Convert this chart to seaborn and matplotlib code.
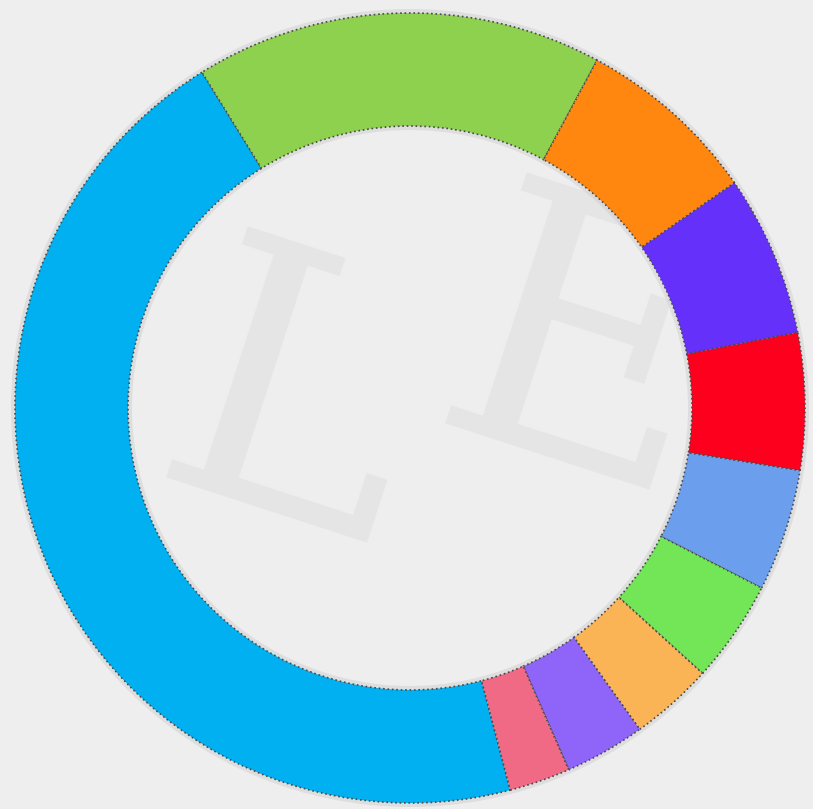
import matplotlib
matplotlib.use("Agg")
import matplotlib.pyplot as plt
import seaborn as sns

sns.set_style("white")

# share of each slice, read from the ring (largest first, clockwise)
shares = [45.3, 16.7, 7.5, 6.6, 5.6, 5.0, 4.2, 3.4, 3.3, 2.5]
colors = ["#00b0f0", "#8dd14f", "#ff860f", "#6630fb", "#fd001d",
          "#6b9fee", "#72e656", "#fab455", "#8f64f8", "#f06a86"]

palette = sns.color_palette(colors)

fig = plt.figure(figsize=(8.13, 8.09), dpi=100, facecolor="#eeeeee")
ax = fig.add_axes([0, 0, 1, 1])
ax.set_facecolor("#eeeeee")
ax.set_xlim(0, 813)
ax.set_ylim(0, 809)
ax.set_aspect("equal")
ax.axis("off")

# faint watermark letters in the background
for txt, x, y in [("L", 290, 390), ("E", 580, 440)]:
    ax.text(x, y, txt, fontsize=260, family="DejaVu Serif", color="#dcdcdc",
            alpha=0.5, rotation=-18, ha="center", va="center", zorder=1)

# soft shadow around the ring
ax.pie([1], radius=399, center=(410, 401), colors=["#cfcfcf"],
       wedgeprops=dict(width=121, edgecolor="none", alpha=0.5))

wedges, _ = ax.pie(shares, colors=palette, radius=395, center=(410, 401),
                   startangle=-75.3, counterclock=False,
                   wedgeprops=dict(width=113, edgecolor="#4a4a4a",
                                   linewidth=1.2, linestyle=":"))
for w in wedges:
    w.set_zorder(3)

ax.set_xlim(0, 813)
ax.set_ylim(0, 809)

fig.savefig("out.png", dpi=100, facecolor=fig.get_facecolor())
